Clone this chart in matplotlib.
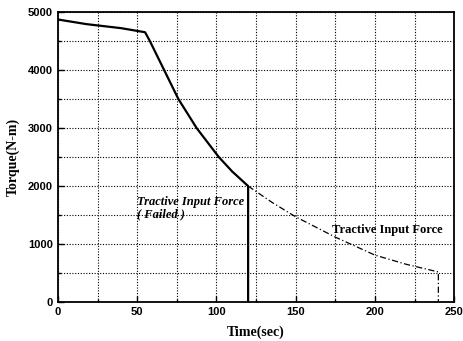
import matplotlib
matplotlib.use("Agg")
import matplotlib.pyplot as plt
from matplotlib.ticker import MultipleLocator

# Failed tractive input force (solid)
t_failed = [0, 18, 40, 55, 58, 67, 76, 87.5, 101.5, 110, 120, 120]
q_failed = [4870, 4790, 4720, 4650, 4500, 4000, 3500, 3000, 2500, 2250, 2000, 0]

# Tractive input force (dash-dot)
t_normal = [120, 135, 150, 175, 200, 220, 240, 240]
q_normal = [2000, 1720, 1470, 1120, 810, 650, 520, 0]

x_ticks = [0, 50, 100, 150, 200, 250]
y_ticks = [0, 1000, 2000, 3000, 4000, 5000]

fig = plt.figure(figsize=(4.63, 3.41), dpi=100)
ax = fig.add_axes([0.125, 0.114, 0.856, 0.851])

ax.plot(t_failed, q_failed, color="black", lw=1.6)
ax.plot(t_normal, q_normal, color="black", lw=0.9, ls=(0, (5, 2, 1, 2)))

ax.set_xlim(0, 250)
ax.set_ylim(0, 5000)
ax.set_xticks(x_ticks)
ax.set_yticks(y_ticks)
ax.xaxis.set_minor_locator(MultipleLocator(25))
ax.yaxis.set_minor_locator(MultipleLocator(500))
ax.grid(True, which="both", color="black", ls=(0, (1, 1.5)), lw=0.8)
ax.tick_params(which="both", direction="in", length=4, width=1)
ax.tick_params(which="minor", length=2)
for lab in ax.get_xticklabels() + ax.get_yticklabels():
    lab.set_fontweight("bold")
    lab.set_fontsize(8)
    lab.set_family("Liberation Sans")
for s in ax.spines.values():
    s.set_linewidth(1.3)

ax.set_xlabel("Time(sec)", family="Liberation Serif", fontweight="bold", fontsize=10, labelpad=6)
ax.set_ylabel("Torque(N-m)", family="Liberation Serif", fontweight="bold", fontsize=10, labelpad=6)

ax.text(50, 1620, "Tractive Input Force\n( Failed )", family="Liberation Serif",
        fontweight="bold", style="italic", fontsize=9, va="center", ha="left", linespacing=1.1)
ax.text(173, 1250, "Tractive Input Force", family="Liberation Serif",
        fontweight="bold", fontsize=9, va="center", ha="left")

fig.savefig("out.png", dpi=100)
